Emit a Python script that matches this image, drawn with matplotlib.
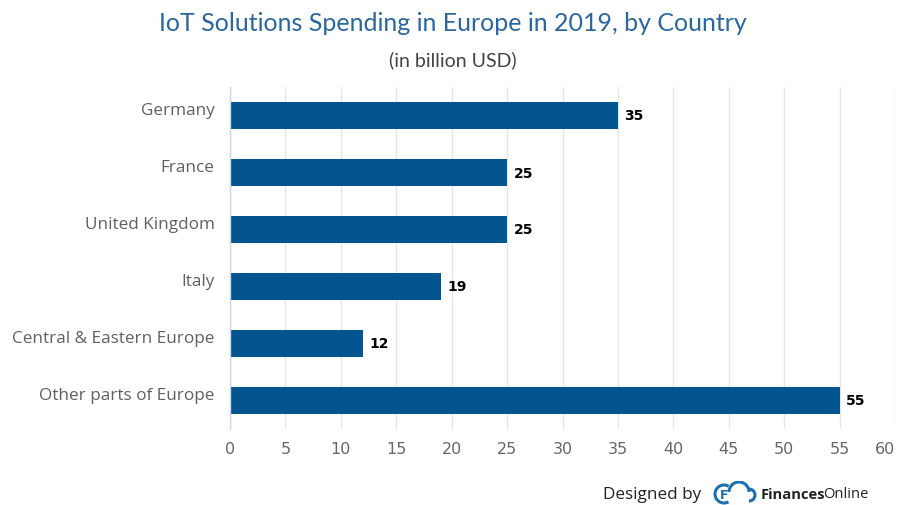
import matplotlib

matplotlib.use("Agg")
import matplotlib.pyplot as plt
import matplotlib.transforms as mtrans
from matplotlib.patches import Arc

# ---- data -----------------------------------------------------------------
countries = ["Germany", "France", "United Kingdom", "Italy",
             "Central & Eastern Europe", "Other parts of Europe"]
spending = [35, 25, 25, 19, 12, 55]
x_ticks = [0, 5, 10, 15, 20, 25, 30, 35, 40, 45, 50, 55, 60]

BAR = "#02558f"
TITLE = "#2a67a0"
GRID = "#e6e6e6"

W, H = 897, 506
fig = plt.figure(figsize=(W / 100, H / 100), dpi=100)
fig.patch.set_facecolor("white")

# plot area in pixel terms: x 230..895, y 88..430
ax = fig.add_axes([230 / W, 1 - 430 / H, (895 - 230) / W, (430 - 88) / H])

ypos = list(range(len(countries)))
ax.barh(ypos, spending, height=0.49, color=BAR, zorder=2)
for y, v in zip(ypos, spending):
    ax.text(v + 0.6, y, f"{v}", ha="left", va="center", fontsize=10,
            fontweight="bold", color="#000000", family="DejaVu Sans")

ax.set_xlim(0, 60)
ax.set_ylim(len(countries) - 0.5, -0.5)
ax.set_xticks(x_ticks)
ax.set_xticklabels([str(t) for t in x_ticks])
ax.set_yticks(ypos)
ax.set_yticklabels(countries)
ax.grid(True, axis="x", color=GRID, lw=1.0, zorder=0)
ax.set_axisbelow(True)
for sp in ["top", "right", "bottom"]:
    ax.spines[sp].set_visible(False)
ax.spines["left"].set_color("#ccd6eb")
ax.spines["left"].set_linewidth(1.0)
ax.tick_params(axis="both", length=0)
ax.tick_params(axis="x", labelsize=11.5, labelcolor="#666666", pad=9)
ax.tick_params(axis="y", labelsize=12.3, labelcolor="#606060", pad=11)
for lab in ax.get_xticklabels():
    lab.set_family("DejaVu Sans")
# last tick label sits inside the figure edge
ax.get_xticklabels()[-1].set_ha("right")
ax.get_xticklabels()[-1].set_x(60.6)

# raise category labels slightly above the bar centre
offset = mtrans.ScaledTranslation(0, 4 / 72, fig.dpi_scale_trans)
for lab in ax.get_yticklabels():
    lab.set_family("Open Sans")
    lab.set_va("center")
    lab.set_transform(lab.get_transform() + offset)

# titles
fig.text(453 / W, 1 - 24 / H, "IoT Solutions Spending in Europe in 2019, by Country",
         ha="center", va="center", fontsize=18, color=TITLE,
         family="Lato", fontweight="normal")
fig.text(453 / W, 1 - 60 / H, "(in billion USD)", ha="center", va="center",
         fontsize=14, color="#444444", family="Lato", fontweight="normal")

# footer credit
fig.text(603 / W, 1 - 495 / H, "Designed by", ha="left", va="center",
         fontsize=12.3, color="#222222", family="Open Sans")
lx = fig.add_axes([712 / W, 1 - 506 / H, 50 / W, 24 / H])
lx.set_xlim(0, 50)
lx.set_ylim(0, 24)
lx.axis("off")
lx.add_patch(Arc((12, 11), 18, 18, theta1=60, theta2=300, color="#1e6fb0", lw=2.2))
lx.add_patch(Arc((27, 13), 20, 20, theta1=0, theta2=180, color="#1e6fb0", lw=2.2))
lx.add_patch(Arc((37, 10), 12, 12, theta1=-90, theta2=90, color="#1e6fb0", lw=2.2))
lx.text(12, 10, "F", ha="center", va="center", fontsize=9, fontweight="bold",
        color="#1e6fb0")
fig.text(761 / W, 1 - 495 / H, "Finances", ha="left", va="center",
         fontsize=10.6, fontweight="bold", color="#222222", family="Open Sans")
fig.text(823.5 / W, 1 - 495 / H, "Online", ha="left", va="center",
         fontsize=10.6, color="#222222", family="Open Sans")

fig.savefig("out.png", dpi=100)
